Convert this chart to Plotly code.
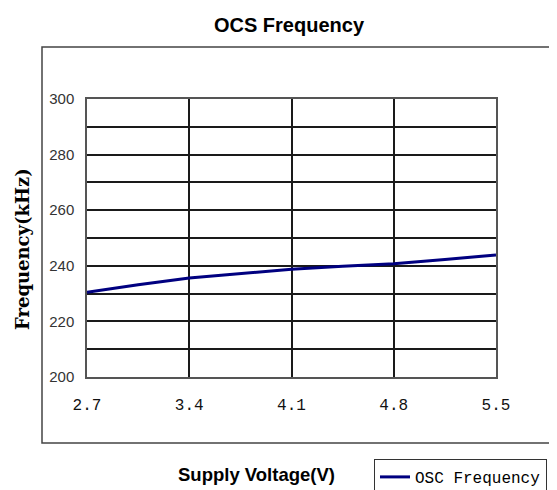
import plotly.graph_objects as go

voltage = [2.7, 3.05, 3.4, 3.75, 4.1, 4.45, 4.8, 5.15, 5.5]
frequency = [230.5, 233.2, 235.6, 237.3, 238.8, 239.8, 240.7, 242.3, 243.9]
x_ticks = [2.7, 3.4, 4.1, 4.8, 5.5]
x_tick_labels = ["2.7", "3.4", "4.1", "4.8", "5.5"]
y_ticks = [200, 220, 240, 260, 280, 300]

W, H = 557, 490
OFF = 8  # page body margin
L, T = 87 - OFF, 99 - OFF
pw, ph = 409, 278
R = W - L - pw
B = H - T - ph

def px(x):
    return (x - OFF - L) / pw

def py(y):
    return (T + ph - (y - OFF)) / ph

fig = go.Figure()
fig.add_trace(go.Scatter(
    x=voltage, y=frequency, mode="lines", name="OSC Frequency",
    line=dict(color="#000080", width=3), showlegend=True,
))

fig.update_layout(
    width=W, height=H,
    margin=dict(l=L, r=R, t=T, b=B, autoexpand=False),
    paper_bgcolor="white", plot_bgcolor="white",
    title=dict(text="<b>OCS Frequency</b>", x=(289 - OFF) / W, xref="container", xanchor="center",
               y=1 - (25 - OFF) / H, yref="container", yanchor="middle",
               font=dict(family="Liberation Sans", size=20, color="black")),
    xaxis=dict(range=[2.7, 5.5], tickvals=x_ticks, ticktext=x_tick_labels,
               showgrid=True, gridcolor="#1a1a1a", gridwidth=1.5,
               showline=True, linecolor="#555", linewidth=1.5, mirror=True,
               zeroline=False, ticks="", ticklabelstandoff=12,
               tickfont=dict(family="Liberation Mono", size=16, color="#111")),
    yaxis=dict(range=[200, 300], tickvals=y_ticks,
               showgrid=True, gridcolor="#1a1a1a", gridwidth=1.5,
               minor=dict(dtick=10, tick0=200, showgrid=True, gridcolor="#1a1a1a", gridwidth=1.5),
               showline=True, linecolor="#555", linewidth=1.5, mirror=True,
               zeroline=False, ticks="", ticklabelstandoff=8,
               tickfont=dict(family="Liberation Sans Narrow, Liberation Sans", size=15, color="#333")),
    showlegend=True,
    legend=dict(x=px(374), y=py(459), xanchor="left", yanchor="top",
                bgcolor="white", bordercolor="#333", borderwidth=1,
                font=dict(family="Liberation Mono", size=16, color="black"),
                itemwidth=30, tracegroupgap=0),
    shapes=[
        dict(type="rect", xref="paper", yref="paper",
             x0=px(42), x1=px(575), y0=py(443), y1=py(47),
             line=dict(color="#444", width=1.5), fillcolor="rgba(0,0,0,0)", layer="below"),
    ],
    annotations=[
        dict(text="<b>Frequency(kHz)</b>", xref="paper", yref="paper",
             x=px(22), y=py(249), textangle=-90, showarrow=False,
             xanchor="center", yanchor="middle",
             font=dict(family="DejaVu Serif", size=18, color="black")),
        dict(text="<b>Supply Voltage(V)</b>", xref="paper", yref="paper",
             x=px(256), y=py(474), showarrow=False,
             xanchor="center", yanchor="middle",
             font=dict(family="Liberation Sans", size=18.5, color="black")),
    ],
)

fig.write_html("out.html")
